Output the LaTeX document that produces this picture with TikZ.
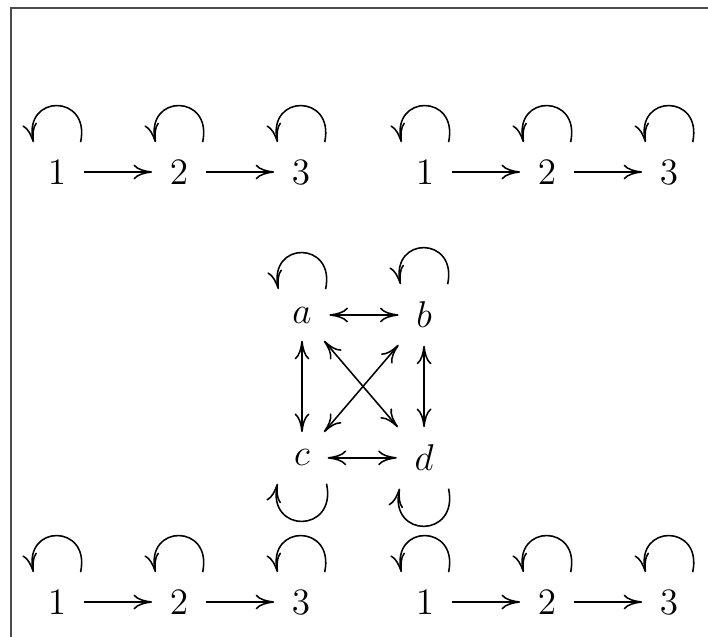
\documentclass[tikz,border=0pt]{standalone}
\usepackage{amsmath}
\usepackage{tikz}
\usetikzlibrary{arrows.meta, positioning}

\begin{document}
\begin{tikzpicture}[
  x=0.322pt, y=-0.322pt,
  node distance=39.3pt, on grid,
  every node/.style={font=\fontsize{11.5}{14}\selectfont},
  st/.style={outer sep=2.4pt},
  arr/.style={-{Computer Modern Rightarrow[length=6pt, width=4.8pt]}, line width=.5pt},
  darr/.style={{Computer Modern Rightarrow[length=6pt, width=4.8pt]}-{Computer Modern Rightarrow[length=6pt, width=4.8pt]}, line width=.5pt},
  loopup/.style={to path={([xshift=7.6pt]\tikztostart.north) .. controls +(78:16pt) and +(102:16pt) .. ([xshift=-7.6pt]\tikztotarget.north)}},
  loopdown/.style={to path={([xshift=7.9pt]\tikztostart.south) .. controls +(-78:16.5pt) and +(-102:16.5pt) .. ([xshift=-7.9pt]\tikztotarget.south)}},
  frame/.style={draw=black!70, line width=.6pt}
]
\useasboundingbox (0,0) rectangle (708,637);
\draw[frame] (11,637) -- (11,8) -- (708,8);

% top rows
\node[st] (p1) at (57,172) {$1$};
\node[st, right=of p1] (p2) {$2$};
\node[st, right=of p2] (p3) {$3$};
\node[st] (q1) at (425,172) {$1$};
\node[st, right=of q1] (q2) {$2$};
\node[st, right=of q2] (q3) {$3$};
\draw[arr] (p1) edge (p2) (p2) edge (p3) (q1) edge (q2) (q2) edge (q3);
\path[arr] (p1) edge[loopup] (p1) (p2) edge[loopup] (p2) (p3) edge[loopup] (p3)
           (q1) edge[loopup] (q1) (q2) edge[loopup] (q2) (q3) edge[loopup] (q3);

% square in the middle
\node[st] (a) at (302,315) {$a$};
\node[st, right=of a] (b) {$b$};
\node[st, below=46pt of a] (c) {$c$};
\node[st, right=of c] (d) {$d$};
\draw[darr] (a) edge (b) (c) edge (d) (a) edge (c) (b) edge (d) (a) edge (d) (b) edge (c);
\path[arr] (a) edge[loopup] (a) (b) edge[loopup] (b)
           (c) edge[loopdown] (c) (d) edge[loopdown] (d);

% bottom rows
\node[st] (r1) at (57,602) {$1$};
\node[st, right=of r1] (r2) {$2$};
\node[st, right=of r2] (r3) {$3$};
\node[st] (s1) at (425,602) {$1$};
\node[st, right=of s1] (s2) {$2$};
\node[st, right=of s2] (s3) {$3$};
\draw[arr] (r1) edge (r2) (r2) edge (r3) (s1) edge (s2) (s2) edge (s3);
\path[arr] (r1) edge[loopup] (r1) (r2) edge[loopup] (r2) (r3) edge[loopup] (r3)
           (s1) edge[loopup] (s1) (s2) edge[loopup] (s2) (s3) edge[loopup] (s3);
\end{tikzpicture}
\end{document}
